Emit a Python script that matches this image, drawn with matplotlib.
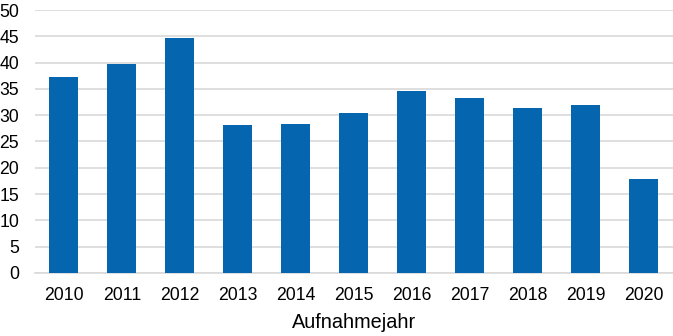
import numpy as np
import matplotlib
matplotlib.use("Agg")
import matplotlib.pyplot as plt

plt.rcParams['font.family'] = ['Liberation Sans', 'DejaVu Sans']

years = ['2010', '2011', '2012', '2013', '2014', '2015',
         '2016', '2017', '2018', '2019', '2020']
values = [37.2, 39.7, 44.6, 28.1, 28.3, 30.45, 34.6, 33.2, 31.3, 31.9, 17.8]
yticks = [0, 5, 10, 15, 20, 25, 30, 35, 40, 45, 50]

fig = plt.figure(figsize=(6.73, 3.36), dpi=100)
ax = fig.add_axes([0.052, 0.188, 0.948, 0.782])

x = np.arange(len(years))
ax.bar(x, values, width=0.5, color='#0565ae', zorder=3)

ax.set_xlim(-0.5, len(years) - 0.5)
ax.set_ylim(0, 50)
ax.set_yticks(yticks)
ax.set_xticks(x)
ax.set_xticklabels(years)

ax.grid(axis='y', color='#d9d9d9', linewidth=1.2, zorder=0)
for side in ['top', 'right', 'left']:
    ax.spines[side].set_visible(False)
ax.spines['bottom'].set_color('#d9d9d9')
ax.spines['bottom'].set_linewidth(1.2)
ax.tick_params(axis='both', length=0, labelsize=12.7, colors='#000000')
ax.tick_params(axis='y', pad=11.5)
ax.tick_params(axis='x', pad=10)

ax.set_xlabel('Aufnahmejahr', fontsize=14.3, labelpad=6.5)

fig.savefig('out.png', dpi=100)
